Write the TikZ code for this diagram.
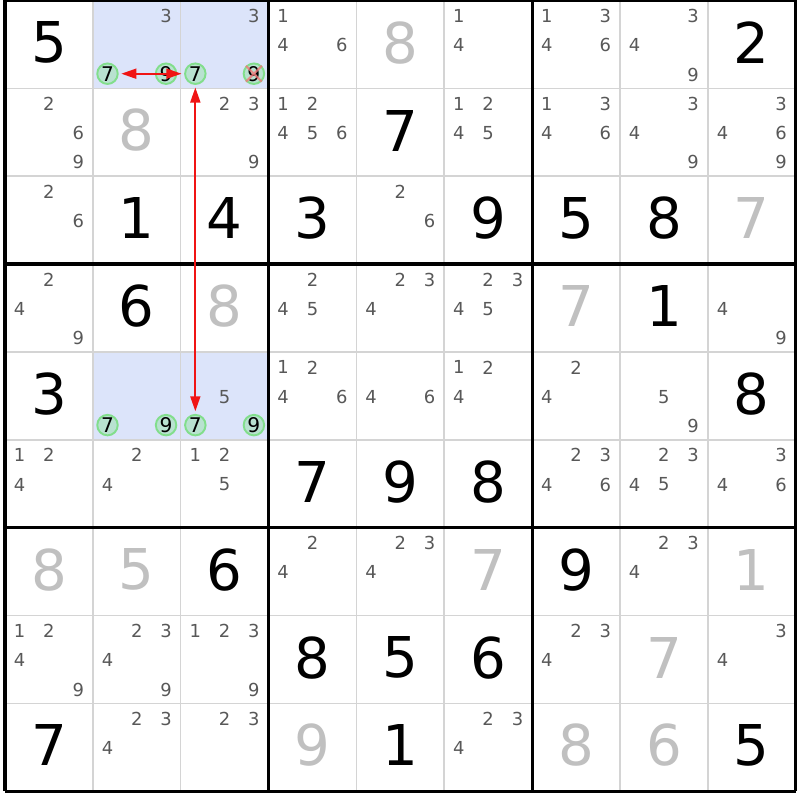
\documentclass[tikz,border=0pt]{standalone}
\usepackage{fontspec}
\setmainfont{DejaVu Sans}
\usetikzlibrary{arrows.meta}
\definecolor{solvedcol}{RGB}{192,192,192}
\definecolor{candcol}{RGB}{88,88,88}
\definecolor{hilite}{RGB}{220,228,250}
\definecolor{ringfill}{RGB}{184,226,208}
\definecolor{ringdraw}{RGB}{130,222,140}
\definecolor{thinline}{RGB}{212,212,212}
\definecolor{linkred}{RGB}{240,20,20}
\definecolor{crosspink}{RGB}{240,120,120}
\tikzset{
  given/.style={font=\fontsize{32}{32}\selectfont, text=black, inner sep=0pt},
  solved/.style={given, text=solvedcol},
  cand/.style={font=\fontsize{10.2}{10.2}\selectfont, text=candcol, inner sep=0pt},
  ring/.style={circle, draw=ringdraw, fill=ringfill, line width=1.1pt, minimum size=0.41cm, inner sep=0pt, font=\fontsize{11.5}{11.5}\selectfont, text=black},
  link/.style={color=linkred, line width=1pt, {Triangle[length=0.3cm,width=0.2cm]}-{Triangle[length=0.3cm,width=0.2cm]}, shorten <=1.5pt, shorten >=1.5pt},
  elim/.style={draw=crosspink, line width=1.2pt, opacity=0.8},
}
\begin{document}
\begin{tikzpicture}[x=1.757cm, y=-1.757cm]
        \useasboundingbox (-0.1cm,0.01cm) rectangle (15.9cm,-15.99cm);
        \fill[white] (-0.1cm,0.01cm) rectangle (15.9cm,-15.99cm);
        \fill[hilite] (1,0) rectangle (3,1);
        \fill[hilite] (1,4) rectangle (3,5);
        \foreach \i in {1,2,4,5,7,8} {
            \draw[thinline, line width=0.9pt] (\i,0) -- (\i,9);
            \draw[thinline, line width=0.9pt] (0,\i) -- (9,\i);
        }
        \foreach \i in {0,3,6,9} {
            \draw[line width=1.8pt] (\i,0) -- (\i,9);
            \draw[line width=1.8pt] (0,\i) -- (9,\i);
        }
        \foreach \r/\c/\v in {1/1/5, 1/9/2, 2/5/7, 3/2/1, 3/3/4, 3/4/3, 3/6/9, 3/7/5, 3/8/8,
            4/2/6, 4/8/1, 5/1/3, 5/9/8, 6/4/7, 6/5/9, 6/6/8, 7/3/6, 7/7/9,
            8/4/8, 8/5/5, 8/6/6, 9/1/7, 9/5/1, 9/9/5}
            \node[given] (g\r\c) at (\c-0.5,\r-0.52) {\v};
        \foreach \r/\c/\v in {1/5/8, 2/2/8, 3/9/7, 4/3/8, 4/7/7, 7/1/8, 7/2/5, 7/6/7, 7/9/1,
            8/8/7, 9/4/9, 9/7/8, 9/8/6}
            \node[solved] (s\r\c) at (\c-0.5,\r-0.52) {\v};
        \foreach \r/\c/\cands in {1/2/{3}, 1/3/{3}, 1/4/{1,4,6}, 1/6/{1,4}, 1/7/{1,3,4,6}, 1/8/{3,4,9},
            2/1/{2,6,9}, 2/3/{2,3,9}, 2/4/{1,2,4,5,6}, 2/6/{1,2,4,5}, 2/7/{1,3,4,6}, 2/8/{3,4,9}, 2/9/{3,4,6,9},
            3/1/{2,6}, 3/5/{2,6},
            4/1/{2,4,9}, 4/4/{2,4,5}, 4/5/{2,3,4}, 4/6/{2,3,4,5}, 4/9/{4,9},
            5/3/{5}, 5/4/{1,2,4,6}, 5/5/{4,6}, 5/6/{1,2,4}, 5/7/{2,4}, 5/8/{5,9},
            6/1/{1,2,4}, 6/2/{2,4}, 6/3/{1,2,5}, 6/7/{2,3,4,6}, 6/8/{2,3,4,5}, 6/9/{3,4,6},
            7/4/{2,4}, 7/5/{2,3,4}, 7/8/{2,3,4},
            8/1/{1,2,4,9}, 8/2/{2,3,4,9}, 8/3/{1,2,3,9}, 8/7/{2,3,4}, 8/9/{3,4},
            9/2/{2,3,4}, 9/3/{2,3}, 9/6/{2,3,4}} {
            \foreach \d in \cands {
                \pgfmathsetmacro{\cx}{\c-1+(mod(\d-1,3)+0.5)/3}
                \pgfmathsetmacro{\cy}{\r-1+(floor((\d-1)/3)+0.5)/3+0.01}
                \node[cand] (n\r\c\d) at (\cx,\cy) {\d};
            }
        }
        \node[ring] (ul7) at (1+1/6,5/6) {7};
        \node[ring] (ul9) at (1+5/6,5/6) {9};
        \node[ring] (ur7) at (2+1/6,5/6) {7};
        \node[ring] (ur9) at (2+5/6,5/6) {9};
        \node[ring] (ll7) at (1+1/6,4+5/6) {7};
        \node[ring] (ll9) at (1+5/6,4+5/6) {9};
        \node[ring] (lr7) at (2+1/6,4+5/6) {7};
        \node[ring] (lr9) at (2+5/6,4+5/6) {9};
        \draw[elim] (ur9.north west) -- (ur9.south east) (ur9.north east) -- (ur9.south west);
        \draw[link] (ul7) -- (ur7);
        \draw[link] (ur7) -- (lr7);
\end{tikzpicture}
\end{document}
